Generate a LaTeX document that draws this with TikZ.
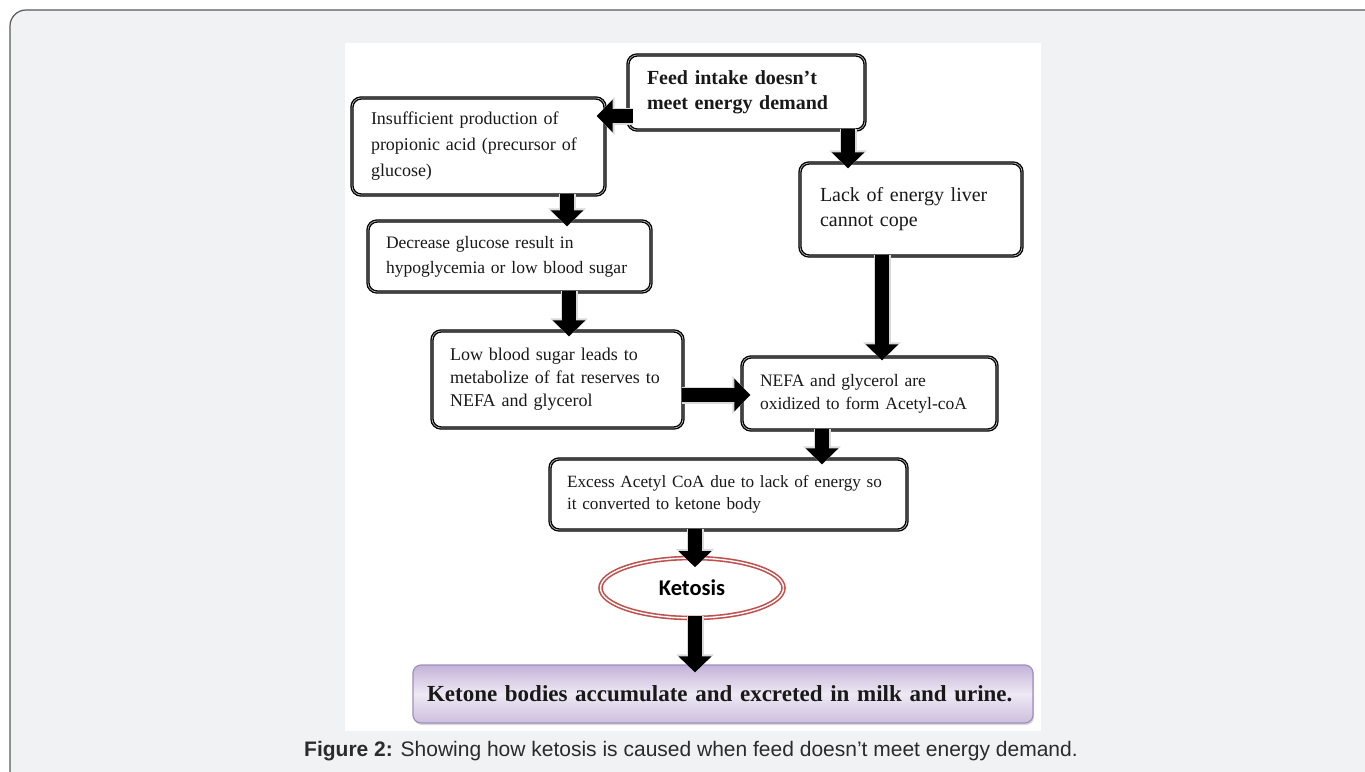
\documentclass[tikz,border=0pt]{standalone}
\usepackage{fontspec}
\setmainfont{Liberation Serif}
\newfontfamily\capfont{Liberation Sans}
\newfontfamily\ketfont{Carlito}
\usetikzlibrary{arrows.meta,shapes.geometric,shadows}

\definecolor{panelgray}{HTML}{F1F2F4}
\definecolor{panelline}{HTML}{5A5A5A}
\definecolor{ketred}{HTML}{C0504D}
\definecolor{lilacdark}{HTML}{C3B3D8}
\definecolor{lilaclight}{HTML}{EEE9F4}
\definecolor{lilacline}{HTML}{A08FBE}
\definecolor{captext}{HTML}{2B2B2B}

\begin{document}
\begin{tikzpicture}[x=1pt, y=-1pt,
    box/.style={draw=black, line width=3.4pt, rounded corners=9pt, fill=white,
      align=left, inner xsep=18pt, inner ysep=0pt, text=black!90,
      postaction={draw=gray!55, line width=0.7pt}},
    flow/.style={line width=14pt, -{Triangle[length=16pt,width=32pt]},
      preaction={draw=gray!30, line width=17pt, -{Triangle[length=18pt,width=37pt]}}},
    ketbox/.style={ellipse, draw=ketred, line width=1.6pt, double=white,
      double distance=1.4pt, fill=white, minimum width=183pt, minimum height=60pt,
      font=\ketfont\bfseries\fontsize{22.5}{26}\selectfont},
    endbox/.style={draw=lilacline, line width=1.2pt, rounded corners=8pt,
      top color=lilacdark, bottom color=lilacdark!85, middle color=lilaclight,
      drop shadow={shadow xshift=1pt, shadow yshift=-2pt, opacity=0.3},
      minimum width=620pt, minimum height=58pt, align=left, inner xsep=14pt,
      text width=592pt, text=black!90, font=\bfseries\fontsize{23}{28}\selectfont}]

    % page and panel
    \clip (0,0) rectangle (1365,771);
    \fill[white] (0,0) rectangle (1365,771);
    \draw[panelline, line width=1.2pt, fill=panelgray, rounded corners=16pt]
      (10,10) rectangle (1400,800);
    \fill[white] (345,43) rectangle (1041,731);

    % boxes
    \node[box, minimum width=237pt, minimum height=75pt, text width=199pt,
      inner xsep=19pt, font=\bfseries\fontsize{20}{25}\selectfont]
      (feed) at (746.5,92.5) {Feed intake doesn’t\\meet energy demand};
    \node[box, minimum width=253pt, minimum height=97pt, text width=215pt,
      inner xsep=19pt, font=\fontsize{18}{26}\selectfont]
      (insuf) at (478.5,146.5) {Insufficient production of\\propionic acid (precursor of\\glucose)};
    \node[box, minimum width=222pt, minimum height=93pt, text width=182pt,
      inner xsep=20pt, font=\fontsize{20}{25}\selectfont]
      (lack) at (911,209.5) {Lack of energy liver\\cannot cope\\[6pt]};
    \node[box, minimum width=283pt, minimum height=71pt, text width=247pt,
      font=\fontsize{17.5}{25}\selectfont]
      (decr) at (509.5,256.5) {Decrease glucose result in\\hypoglycemia or low blood sugar};
    \node[box, minimum width=251pt, minimum height=97pt, text width=215pt,
      font=\fontsize{18}{23}\selectfont]
      (low) at (557.5,379.5) {Low blood sugar leads to\\metabolize of fat reserves to\\NEFA and glycerol};
    \node[box, minimum width=255pt, minimum height=73pt, text width=219pt,
      font=\fontsize{17.5}{23}\selectfont]
      (nefa) at (869.5,393.5) {NEFA and glycerol are\\oxidized to form Acetyl-coA};
    \node[box, minimum width=357pt, minimum height=71pt, text width=323pt,
      inner xsep=17pt, font=\fontsize{17.2}{22.5}\selectfont]
      (excess) at (728.5,494.5) {Excess Acetyl CoA due to lack of energy so\\it converted to ketone body};
    \node[ketbox] (ketosis) at (692,588) {Ketosis};
    \node[endbox] (ketone) at (723,694)
      {Ketone bodies accumulate and excreted in milk and urine.};

    % arrows
    \draw[flow] ([shift={(7,23.5)}]feed.west) -- ([shift={(-10,-30.5)}]insuf.east);
    \draw[flow] ([shift={(101.5,-3)}]feed.south) -- ([shift={(-63,7)}]lack.north);
    \draw[flow] ([shift={(88.5,-3)}]insuf.south) -- ([shift={(57.5,7)}]decr.north);
    \draw[flow] ([shift={(59.5,-3)}]decr.south) -- ([shift={(11.5,7)}]low.north);
    \draw[flow] ([shift={(-29,-3)}]lack.south) -- ([shift={(12.5,5)}]nefa.north);
    \draw[flow] ([shift={(-3,15.5)}]low.east) -- ([shift={(10,1.5)}]nefa.west);
    \draw[flow] ([shift={(-47.5,-3)}]nefa.south) -- ([shift={(93.5,7)}]excess.north);
    \draw[flow] ([shift={(-33.5,-3)}]excess.south) -- ([shift={(3,10)}]ketosis.north);
    \draw[flow] ([shift={(3,-3)}]ketosis.south) -- ([shift={(-28,8)}]ketone.north);

    % caption
    \node[text=captext, font=\capfont\fontsize{21}{24}\selectfont] (caption) at (691,751)
      {\textbf{Figure 2:} Showing how ketosis is caused when feed doesn’t meet energy demand.};
\end{tikzpicture}
\end{document}
